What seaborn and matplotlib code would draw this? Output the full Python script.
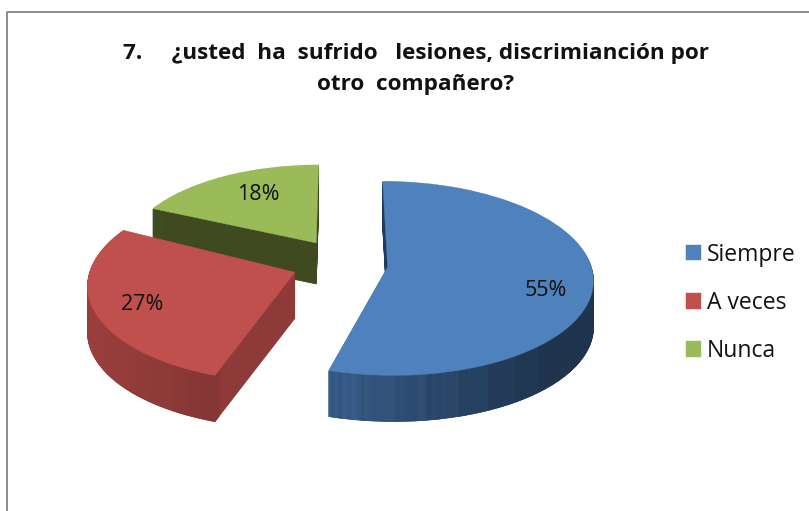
import numpy as np
import matplotlib
matplotlib.use("Agg")
import matplotlib.pyplot as plt
from matplotlib.lines import Line2D
from matplotlib.transforms import Transform, Affine2D
import seaborn as sns

# ---- data ----
categories = ["Siempre", "A veces", "Nunca"]
counts = [6, 3, 2]
title_text = "7.     ¿usted  ha  sufrido   lesiones, discrimianción por\notro  compañero?"

# ---- styles ----
colors = sns.color_palette(["#4f81bd", "#c0504d", "#9bbb59"])
radial_colors = ["#1f3a5c", "#8e3a38", "#404a20"]
shade_a = [0.66, 0.61, 0.42]
shade_b = [-0.39, -0.24, 0.0]
label_xy = [(546, 291), (142, 305), (258, 195)]
depths = [46, 46, 41]
radii = [1.0, 1.0, 0.95]
nudges = [(-1, 1), (-4, 0), (-1, -2)]
turn = [0.0, 2.5, 0.0]

sns.set_theme(style="white")
plt.rcParams["font.family"] = ["Open Sans", "DejaVu Sans"]

CX, CY, RX, RY, K, EXPL = 342, 263, 203, 95, 0.115, 0.231


class Persp(Transform):
    input_dims = 2
    output_dims = 2
    is_affine = False

    def transform_non_affine(self, values):
        values = np.asarray(values, float)
        u, v = values[:, 0], values[:, 1]
        f = 1.0 / (1.0 + K * v)
        return np.column_stack([CX + RX * u * f, CY - RY * v * f])


fig = plt.figure(figsize=(8.09, 5.11), dpi=100, facecolor="white")
ax = fig.add_axes([0, 0, 1, 1])


def place(wedges, ax_transform):
    for w in wedges:
        w.set_transform(ax_transform)


shares = np.array(counts) / sum(counts)
starts = np.concatenate([[0], np.cumsum(shares)[:-1]])
top_wedges = [None] * 3
N = 24
for i in [2, 1, 0]:
    frac, s0 = shares[i], starts[i]
    mid = 2 * np.pi * (s0 + frac / 2)
    center = (EXPL * np.sin(mid), EXPL * np.cos(mid))
    startangle = 90 - 360 * s0 - turn[i]
    nx, ny = nudges[i]
    thetas = 2 * np.pi * (s0 + frac * (np.arange(N) + 0.5) / N)
    fac = np.clip(shade_a[i] + shade_b[i] * np.sin(thetas), 0.40, 0.95)
    ring_cols = [tuple(c * f for c in colors[i]) for f in fac]
    for d in range(depths[i], 0, -1):
        tr = Persp() + Affine2D().translate(nx, ny + d) + ax.transData
        w, _ = ax.pie([frac], normalize=False, startangle=startangle, counterclock=False,
                      center=center, radius=radii[i], colors=[radial_colors[i]],
                      wedgeprops=dict(edgecolor=radial_colors[i], linewidth=0.6))
        place(w, tr)
        w, _ = ax.pie([frac / N] * N, normalize=False, startangle=startangle, counterclock=False,
                      center=center, radius=radii[i], colors=ring_cols,
                      wedgeprops=dict(width=0.05, linewidth=0))
        for wi, c in zip(w, ring_cols):
            wi.set_edgecolor(c)
            wi.set_linewidth(0.6)
        place(w, tr)
    w, _, at = ax.pie([frac], normalize=False, startangle=startangle, counterclock=False,
                      center=center, radius=radii[i], colors=[colors[i]], autopct="%.0f%%",
                      wedgeprops=dict(linewidth=0.3, edgecolor=colors[i]),
                      textprops=dict(color="#111111", fontsize=15.5))
    place(w, Persp() + Affine2D().translate(nx, ny) + ax.transData)
    top_wedges[i] = w[0]
    at[0].set_position(label_xy[i])
    at[0].set_transform(ax.transData)
    at[0].set_zorder(10)

ax.set_aspect("auto")
ax.set_xlim(0, 809)
ax.set_ylim(511, 0)
ax.axis("off")

fig.add_artist(Line2D([7.5 / 809, 7.5 / 809, 1], [0, 1 - 12.5 / 511, 1 - 12.5 / 511],
                      color="#8c8c8c", lw=1.4, transform=fig.transFigure))

ax.text(416, 69, title_text, ha="center", va="center", fontsize=16.2, fontweight="bold",
        color="#111111", linespacing=1.6)

ax.legend(top_wedges, categories, loc="upper left", bbox_to_anchor=(679, 236),
          bbox_transform=ax.transData, frameon=False, fontsize=16.5,
          handlelength=0.65, handleheight=0.65, handletextpad=0.26, labelspacing=1.05,
          labelcolor="#111111", borderaxespad=0, borderpad=0.3)

fig.savefig("out.png", dpi=100)
